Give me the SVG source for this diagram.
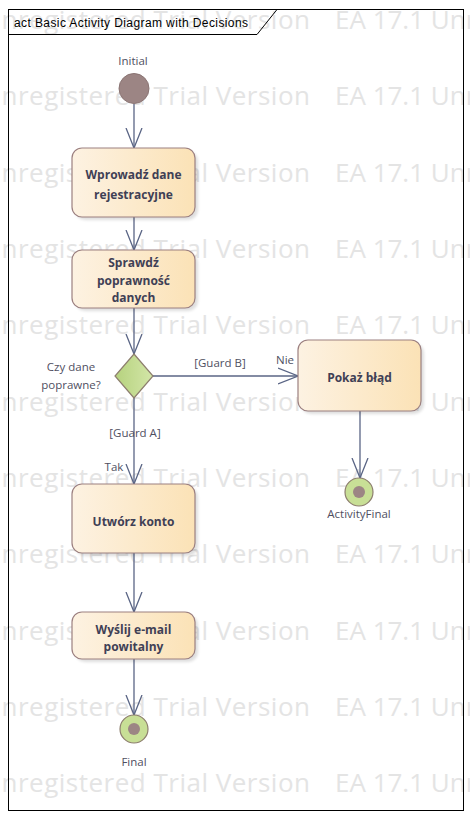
<svg xmlns="http://www.w3.org/2000/svg" width="470" height="819" viewBox="0 0 470 819">
<style>
.wm{font-family:"Open Sans","Noto Sans",sans-serif;font-size:26px;fill:#e4e4e4}
.act{stroke:#9c8080;stroke-width:1.2;fill:url(#gAct)}
.sh{fill:#000;opacity:0.13}
.bt{font-family:"Open Sans","Noto Sans",sans-serif;font-size:12px;font-weight:bold;fill:#3f4055;text-anchor:middle}
.lt{font-family:"Open Sans","Noto Sans",sans-serif;font-size:11.5px;fill:#4f4f5f;text-anchor:middle}
.edge{stroke:#5a6585;stroke-width:1.3;fill:none}
</style>
<defs>
<linearGradient id="gAct" x1="0" y1="0" x2="1" y2="0">
<stop offset="0" stop-color="#fdf2e2"/>
<stop offset="1" stop-color="#fbe2b6"/>
</linearGradient>
<linearGradient id="gDec" x1="0" y1="0" x2="1" y2="0">
<stop offset="0" stop-color="#b6d27e"/>
<stop offset="1" stop-color="#d3e6a8"/>
</linearGradient>
<filter id="blur" x="-10%" y="-10%" width="130%" height="130%"><feGaussianBlur stdDeviation="1.5"/></filter>
<marker id="arr" markerWidth="20" markerHeight="20" refX="20" refY="8" orient="auto" markerUnits="userSpaceOnUse" viewBox="0 0 20 16">
<path d="M0,0 L20,8 L0,16" fill="none" stroke="#5a6585" stroke-width="1.3"/>
</marker>
</defs>

<g id="watermark">
<text class="wm" x="-18" y="29" textLength="328">Unregistered Trial Version</text><text class="wm" x="335" y="29">EA 17.1 Unregistered</text>
<text class="wm" x="-18" y="105" textLength="328">Unregistered Trial Version</text><text class="wm" x="335" y="105">EA 17.1 Unregistered</text>
<text class="wm" x="-18" y="181.5" textLength="328">Unregistered Trial Version</text><text class="wm" x="335" y="181.5">EA 17.1 Unregistered</text>
<text class="wm" x="-18" y="258" textLength="328">Unregistered Trial Version</text><text class="wm" x="335" y="258">EA 17.1 Unregistered</text>
<text class="wm" x="-18" y="334" textLength="328">Unregistered Trial Version</text><text class="wm" x="335" y="334">EA 17.1 Unregistered</text>
<text class="wm" x="-18" y="410.5" textLength="328">Unregistered Trial Version</text><text class="wm" x="335" y="410.5">EA 17.1 Unregistered</text>
<text class="wm" x="-18" y="487" textLength="328">Unregistered Trial Version</text><text class="wm" x="335" y="487">EA 17.1 Unregistered</text>
<text class="wm" x="-18" y="563" textLength="328">Unregistered Trial Version</text><text class="wm" x="335" y="563">EA 17.1 Unregistered</text>
<text class="wm" x="-18" y="639.5" textLength="328">Unregistered Trial Version</text><text class="wm" x="335" y="639.5">EA 17.1 Unregistered</text>
<text class="wm" x="-18" y="716" textLength="328">Unregistered Trial Version</text><text class="wm" x="335" y="716">EA 17.1 Unregistered</text>
<text class="wm" x="-18" y="792" textLength="328">Unregistered Trial Version</text><text class="wm" x="335" y="792">EA 17.1 Unregistered</text>
</g>

<g id="frame">
<rect x="8.5" y="9.5" width="455" height="801" fill="none" stroke="#000" stroke-width="1"/>
<path d="M8.5,34.5 H257 L277,9.5" fill="none" stroke="#000" stroke-width="1"/>
<text x="14" y="27" textLength="234" style="font-family:'Liberation Sans',Arial,sans-serif;font-size:12px;fill:#000">act Basic Activity Diagram with Decisions</text>
</g>

<g id="connectors">
<line class="edge" x1="134" y1="104" x2="134" y2="148" marker-end="url(#arr)"/>
<line class="edge" x1="134" y1="217" x2="134" y2="250" marker-end="url(#arr)"/>
<line class="edge" x1="134" y1="308" x2="134" y2="354" marker-end="url(#arr)"/>
<line class="edge" x1="153" y1="376" x2="298" y2="376" marker-end="url(#arr)"/>
<text class="lt" x="220" y="367">[Guard B]</text>
<text class="lt" x="285" y="364">Nie</text>
<line class="edge" x1="134" y1="398" x2="134" y2="484" marker-end="url(#arr)"/>
<text class="lt" x="135" y="437">[Guard A]</text>
<text class="lt" x="114" y="471">Tak</text>
<line class="edge" x1="360" y1="411" x2="360" y2="478" marker-end="url(#arr)"/>
<line class="edge" x1="134" y1="553" x2="134" y2="612" marker-end="url(#arr)"/>
<line class="edge" x1="134" y1="659" x2="134" y2="715" marker-end="url(#arr)"/>
</g>

<g id="initial">
<circle cx="134" cy="88.5" r="15" fill="#9c8584" stroke="#8a7473" stroke-width="1"/>
<text class="lt" x="133" y="65">Initial</text>
</g>

<g id="wprowadz">
<rect class="sh" x="75" y="151" width="123" height="69" rx="10" filter="url(#blur)"/>
<rect class="act" x="72" y="148" width="123" height="69" rx="10"/>
<text class="bt" x="133.5" y="179">Wprowadź dane</text>
<text class="bt" x="133.5" y="199">rejestracyjne</text>
</g>

<g id="sprawdz">
<rect class="sh" x="75" y="253" width="123" height="58" rx="10" filter="url(#blur)"/>
<rect class="act" x="72" y="250" width="123" height="58" rx="10"/>
<text class="bt" x="133.5" y="267">Sprawdź</text>
<text class="bt" x="133.5" y="285">poprawność</text>
<text class="bt" x="133.5" y="302">danych</text>
</g>

<g id="decision">
<path d="M134,354 L153,376 L134,398 L115,376 Z" fill="url(#gDec)" stroke="#8d7e6e" stroke-width="1.2"/>
<text class="lt" x="71" y="371">Czy dane</text>
<text class="lt" x="71" y="389">poprawne?</text>
</g>

<g id="pokaz">
<rect class="sh" x="301" y="343" width="123" height="71" rx="10" filter="url(#blur)"/>
<rect class="act" x="298" y="340" width="123" height="71" rx="10"/>
<text class="bt" x="359.5" y="382">Pokaż błąd</text>
</g>

<g id="activityFinal">
<circle cx="359" cy="492" r="14" fill="#c8df96" stroke="#8d7e6e" stroke-width="1.2"/>
<circle cx="359" cy="492" r="6" fill="#9c8584"/>
<text class="lt" x="359" y="518">ActivityFinal</text>
</g>

<g id="utworz">
<rect class="sh" x="75" y="487" width="123" height="69" rx="10" filter="url(#blur)"/>
<rect class="act" x="72" y="484" width="123" height="69" rx="10"/>
<text class="bt" x="133.5" y="526">Utwórz konto</text>
</g>

<g id="wyslij">
<rect class="sh" x="75" y="615" width="123" height="47" rx="10" filter="url(#blur)"/>
<rect class="act" x="72" y="612" width="123" height="47" rx="10"/>
<text class="bt" x="133.5" y="634">Wyślij e-mail</text>
<text class="bt" x="133.5" y="651">powitalny</text>
</g>

<g id="final">
<circle cx="134" cy="729" r="14" fill="#c8df96" stroke="#8d7e6e" stroke-width="1.2"/>
<circle cx="134" cy="729" r="6" fill="#9c8584"/>
<text class="lt" x="134" y="766">Final</text>
</g>
</svg>
